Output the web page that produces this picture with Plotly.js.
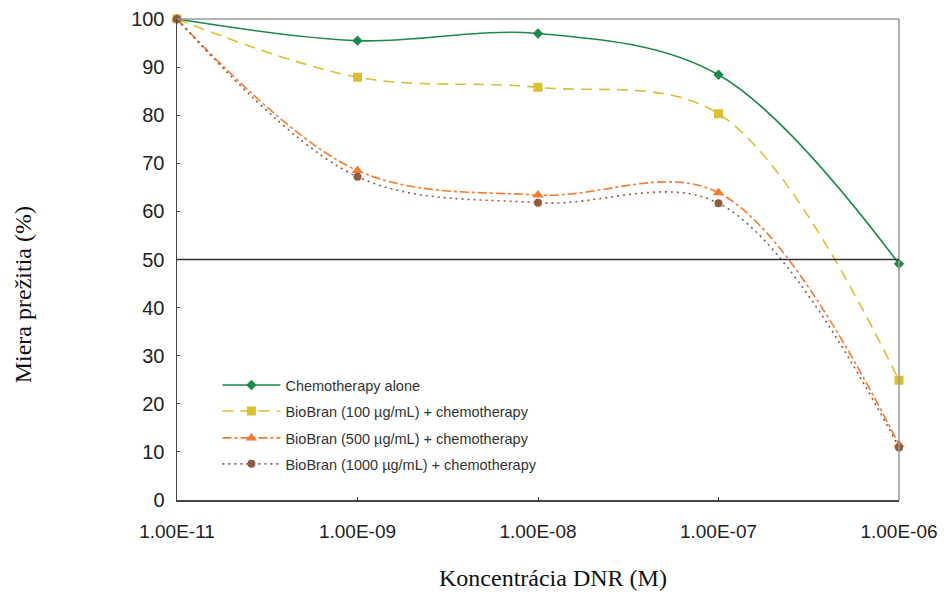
<!DOCTYPE html>
<html>
<head>
<meta charset="utf-8">
<script src="https://cdn.plot.ly/plotly-3.0.1.min.js"></script>
<style>html,body{margin:0;padding:0;background:#fff;}#chart{width:944px;height:594px;}</style>
</head>
<body>
<div id="chart"></div>
<script>
var concentrations = ["1.00E-11", "1.00E-09", "1.00E-08", "1.00E-07", "1.00E-06"];
var chemoAlone = [100, 95.5, 97.0, 88.4, 49.1];
var bioBran100 = [100, 87.9, 85.8, 80.3, 24.9];
var bioBran500 = [100, 68.5, 63.4, 63.9, 11.5];
var bioBran1000 = [100, 67.2, 61.8, 61.7, 10.9];
var seriesNames = [
  "Chemotherapy alone",
  "BioBran (100 \u00b5g/mL) + chemotherapy",
  "BioBran (500 \u00b5g/mL) + chemotherapy",
  "BioBran (1000 \u00b5g/mL) + chemotherapy"
];
var yTicks = [0, 10, 20, 30, 40, 50, 60, 70, 80, 90, 100];

var idx = concentrations.map(function(_, i){ return i; });

function tr(y, name, color, dash, sym, size, leg){
  return {
    x: idx, y: y, name: name, type: 'scatter', mode: 'lines+markers',
    line: {color: color, width: 1.6, dash: dash, shape: 'spline', smoothing: 1},
    marker: {color: color, symbol: sym, size: size},
    cliponaxis: false, legend: leg
  };
}

var data = [
  tr(chemoAlone, seriesNames[0], '#1e8a4a', 'solid', 'diamond', 8, 'legend'),
  tr(bioBran100, seriesNames[1], '#d8c032', '11px,7px', 'square', 9, 'legend2'),
  tr(bioBran500, seriesNames[2], '#f47a30', '9px,3px,3px,3px', 'triangle-up', 10, 'legend3'),
  tr(bioBran1000, seriesNames[3], '#8e5a40', '2px,4px', 'circle', 8, 'legend4')
];

var legFont = {family: 'Liberation Sans, Arial, sans-serif', size: 14.5, color: '#333'};
function leg(yc){
  return {x: 0.056, y: yc, xanchor: 'left', yanchor: 'middle', bgcolor: 'rgba(0,0,0,0)',
    itemwidth: 58, font: legFont};
}

var layout = {
  width: 944, height: 594,
  margin: {l: 177, r: 45, t: 19, b: 94},
  paper_bgcolor: '#fff', plot_bgcolor: '#fff',
  showlegend: true,
  legend: leg(0.239),
  legend2: leg(0.185),
  legend3: leg(0.129),
  legend4: leg(0.075),
  xaxis: {
    range: [0, 4], tickmode: 'array', tickvals: idx, ticktext: concentrations,
    showgrid: false, zeroline: false, showline: true, linecolor: '#444', linewidth: 1.5,
    ticks: 'inside', ticklen: 3, tickcolor: '#444', ticklabelstandoff: 14,
    tickfont: {family: 'Liberation Sans, Arial, sans-serif', size: 19, color: '#222'}
  },
  yaxis: {
    range: [0, 100], tickmode: 'array', tickvals: yTicks,
    showgrid: false, zeroline: false, showline: true, linecolor: '#444', linewidth: 1.5,
    ticks: 'inside', ticklen: 3, tickcolor: '#444', ticklabelstandoff: 7,
    tickfont: {family: 'Liberation Sans, Arial, sans-serif', size: 20, color: '#222'}
  },
  shapes: [
    {type: 'line', xref: 'paper', yref: 'paper', x0: 0, x1: 1, y0: 1, y1: 1, line: {color: '#999', width: 1.5}},
    {type: 'line', xref: 'paper', yref: 'paper', x0: 1, x1: 1, y0: 0, y1: 1, line: {color: '#999', width: 1.5}},
    {type: 'line', xref: 'paper', yref: 'y', x0: 0, x1: 1, y0: 50, y1: 50, line: {color: '#333', width: 1.3}}
  ],
  annotations: [
    {text: 'Miera pre\u017eitia (%)', xref: 'paper', yref: 'paper', x: -0.213, y: 0.426,
     showarrow: false, textangle: -90, xanchor: 'center', yanchor: 'middle',
     font: {family: 'Liberation Serif, Times New Roman, serif', size: 24, color: '#111'}},
    {text: 'Koncentr\u00e1cia DNR (M)', xref: 'paper', yref: 'paper', x: 0.521, y: -0.162,
     showarrow: false, xanchor: 'center', yanchor: 'middle',
     font: {family: 'Liberation Serif, Times New Roman, serif', size: 24, color: '#111'}}
  ]
};

Plotly.newPlot('chart', data, layout, {displayModeBar: false, staticPlot: true});
</script>
</body>
</html>
